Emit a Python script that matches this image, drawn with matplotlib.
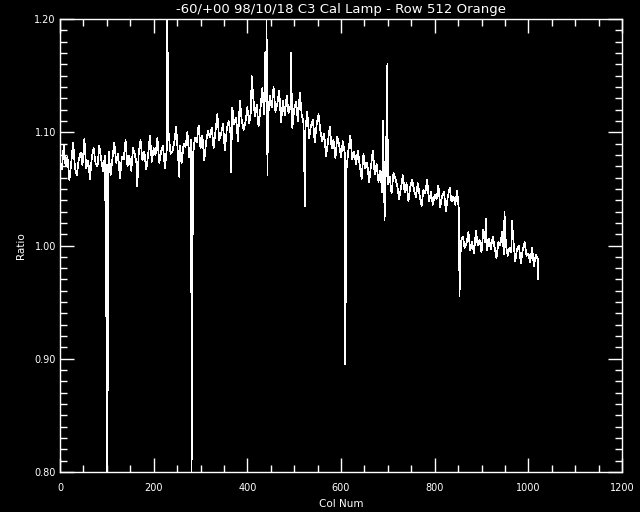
import numpy as np
import matplotlib
matplotlib.use("Agg")
import matplotlib.pyplot as plt
from matplotlib.ticker import MultipleLocator, FormatStrFormatter

# ratio (0..1020)
ratio = [
    1.075, 1.067, 1.088, 1.070, 1.078, 1.058, 1.073, 1.091, 1.068, 1.062,
    1.076, 1.082, 1.071, 1.094, 1.068, 1.075, 1.059, 1.078, 1.086, 1.072,
    1.070, 1.088, 1.076, 1.066, 1.079, 1.071, 1.083, 1.062, 1.077, 1.091,
    1.073, 1.081, 1.059, 1.078, 1.076, 1.093, 1.070, 1.079, 1.066, 1.086,
    1.080, 1.071, 1.081, 1.093, 1.075, 1.083, 1.067, 1.079, 1.097, 1.074,
    1.086, 1.080, 1.095, 1.073, 1.083, 1.088, 1.068, 1.085, 1.099, 1.081,
    1.083, 1.091, 1.105, 1.080, 1.088, 1.073, 1.090, 1.087, 1.100, 1.078,
    1.093, 1.080, 1.095, 1.091, 1.106, 1.086, 1.097, 1.075, 1.092, 1.101,
    1.096, 1.104, 1.086, 1.101, 1.116, 1.093, 1.099, 1.107, 1.084, 1.102,
    1.110, 1.099, 1.122, 1.107, 1.113, 1.092, 1.128, 1.111, 1.102, 1.109,
    1.122, 1.108, 1.119, 1.135, 1.114, 1.124, 1.105, 1.121, 1.139, 1.116,
    1.127, 1.112, 1.132, 1.122, 1.140, 1.118, 1.125, 1.137, 1.109, 1.128,
    1.115, 1.132, 1.117, 1.123, 1.104, 1.120, 1.127, 1.110, 1.135, 1.116,
    1.108, 1.103, 1.118, 1.095, 1.106, 1.111, 1.091, 1.107, 1.116, 1.101,
    1.092, 1.099, 1.079, 1.091, 1.105, 1.086, 1.093, 1.077, 1.096, 1.089,
    1.078, 1.092, 1.082, 1.069, 1.085, 1.097, 1.076, 1.083, 1.072, 1.084,
    1.071, 1.059, 1.081, 1.068, 1.073, 1.056, 1.070, 1.084, 1.063, 1.072,
    1.056, 1.066, 1.047, 1.059, 1.072, 1.054, 1.061, 1.046, 1.064, 1.059,
    1.053, 1.041, 1.051, 1.062, 1.047, 1.055, 1.039, 1.052, 1.058, 1.049,
    1.043, 1.055, 1.044, 1.035, 1.049, 1.046, 1.058, 1.039, 1.047, 1.036,
    1.045, 1.041, 1.053, 1.034, 1.044, 1.047, 1.030, 1.043, 1.051, 1.039,
    1.043, 1.036, 1.048, 1.030, 1.003, 1.008, 0.998, 1.002, 1.012, 0.996,
    1.003, 0.993, 1.013, 1.000, 1.005, 0.994, 1.014, 1.003, 0.996, 1.006,
    0.997, 1.008, 0.998, 0.989, 1.003, 1.000, 1.012, 0.992, 1.001, 0.991,
    0.998, 0.994, 1.005, 0.986, 0.997, 1.000, 0.984, 0.996, 1.003, 0.991,
    0.993, 0.985, 0.998, 0.982, 0.992, 0.988,
]
cols = list(range(0, 4 * len(ratio), 4))

# single-column spikes
spike_cols = [99, 101, 165, 229, 255, 281, 365, 409, 437, 441, 443,
              493, 523, 609, 689, 693, 699, 853, 909, 949, 965, 1021]
spike_vals = [0.935, 0.800, 1.052, 1.200, 1.060, 0.800, 1.065, 1.150, 1.170, 1.200, 1.062,
              1.170, 1.035, 0.895, 1.110, 1.022, 1.160, 0.955, 1.024, 1.030, 1.022, 0.970]

x = np.array(cols + spike_cols)
y = np.array(ratio + spike_vals)
order = np.argsort(x)
x, y = x[order], y[order]

title = "-60/+00 98/10/18 C3 Cal Lamp - Row 512 Orange"

fig = plt.figure(figsize=(6.4, 5.12), dpi=100, facecolor="black")
ax = fig.add_axes([60/640, 40/512, 562/640, 453/512], facecolor="black")

ax.plot(x, y, color="white", lw=0.5, antialiased=False)

ax.set_xlim(0, 1200)
ax.set_ylim(0.80, 1.20)
ax.xaxis.set_major_locator(MultipleLocator(200))
ax.xaxis.set_minor_locator(MultipleLocator(50))
ax.yaxis.set_major_locator(MultipleLocator(0.1))
ax.yaxis.set_minor_locator(MultipleLocator(0.01))
ax.yaxis.set_major_formatter(FormatStrFormatter("%.2f"))

for s in ax.spines.values():
    s.set_color("white")
    s.set_linewidth(1)
ax.tick_params(which="both", direction="in", colors="white", top=True, right=True, width=1)
ax.tick_params(which="major", length=10, labelsize=7)
ax.tick_params(which="minor", length=5)
ax.tick_params(axis="x", pad=8)
ax.tick_params(axis="y", pad=3)

ax.set_title(title, color="white", fontsize=9.5, pad=4)
ax.set_xlabel("Col Num", color="white", fontsize=7.5, labelpad=4)
ax.set_ylabel("Ratio", color="white", fontsize=7.5, labelpad=6)

fig.savefig("out.png", dpi=100, facecolor="black")
